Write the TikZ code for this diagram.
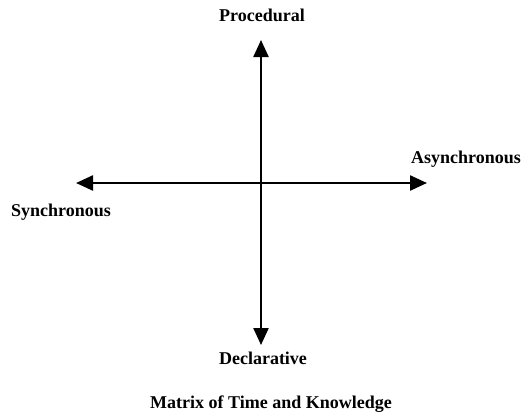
\documentclass[tikz,border=0pt]{standalone}
\usepackage{fontspec}
\setmainfont{Liberation Serif}
\usetikzlibrary{arrows.meta}
\begin{document}
\begin{tikzpicture}[x=1pt,y=-1pt,
  axis/.style={line width=2.4pt,-{Triangle[length=17pt,width=15pt]}},
  lbl/.style={font=\bfseries\fontsize{18}{21}\selectfont,inner sep=0pt}]
\useasboundingbox (0,0) rectangle (523,416);
\coordinate (c) at (261,183);
\coordinate (top) at (261,40);
\coordinate (bot) at (261,345);
\coordinate (left) at (76,183);
\coordinate (right) at (427,183);
\draw[axis] (c) -- (top);
\draw[axis] (c) -- (bot);
\draw[axis] (c) -- (left);
\draw[axis] (c) -- (right);
\node[lbl] (proc) at (262,15) {Procedural};
\node[lbl] (async) at (466,159) {Asynchronous};
\node[lbl] (sync) at (61,212) {Synchronous};
\node[lbl] (decl) at (263,358) {Declarative};
\node[lbl] (title) at (271,404) {Matrix of Time and Knowledge};
\end{tikzpicture}
\end{document}
